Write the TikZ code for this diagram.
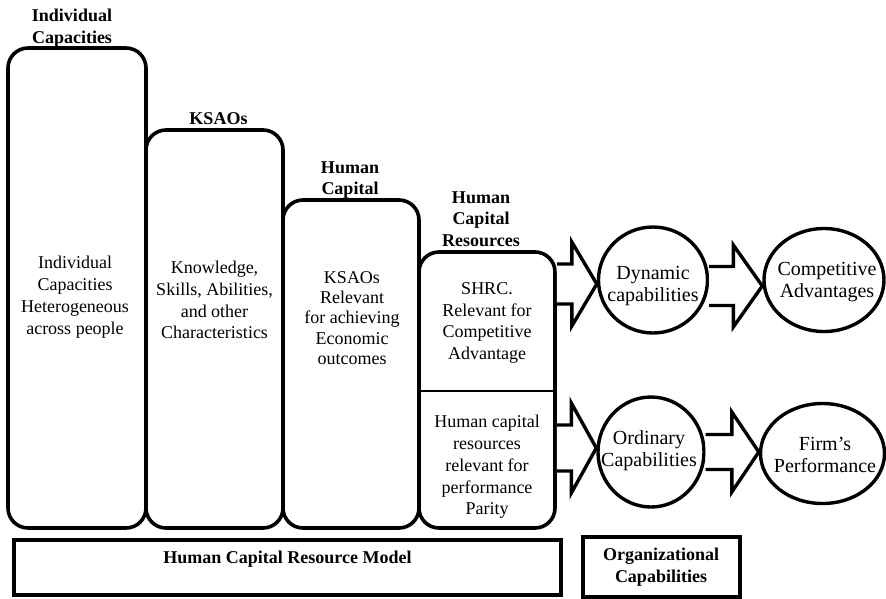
\documentclass[tikz,border=0pt]{standalone}
\usepackage{fontspec}
\setmainfont{Liberation Serif}
\usetikzlibrary{shapes.geometric,calc}

% Block arrow from the east side of node #1 to the west side of node #2.
% #3 = centre line (y, downward), #4 = half shaft width, #5 = half head width,
% #6 = head length.
\newcommand\hcarrow[6]{%
  \draw[blockarrow] let \p1=(#1.east), \p2=(#2.west) in
    (\x1,{-(#3-#4)*1pt}) -- ({\x2-#6*1pt},{-(#3-#4)*1pt})
    -- ({\x2-#6*1pt},{-(#3-#5)*1pt}) -- (\x2,{-#3*1pt})
    -- ({\x2-#6*1pt},{-(#3+#5)*1pt}) -- ({\x2-#6*1pt},{-(#3+#4)*1pt})
    -- (\x1,{-(#3+#4)*1pt});}

\tikzset{
  stage/.style={draw, line width=3.6pt, rounded corners=20pt, inner sep=0pt},
  panel/.style={draw, line width=3.2pt, inner sep=0pt},
  capoval/.style={draw, ellipse, line width=3.4pt, inner sep=0pt},
  divider/.style={line width=1.6pt},
  blockarrow/.style={line width=3.4pt, line join=miter, fill=white},
  bodytext/.style={align=center, inner sep=0pt, font=\fontsize{18}{21.8}\selectfont},
  tightbody/.style={bodytext, font=\fontsize{18}{20.2}\selectfont},
  captext/.style={align=center, inner sep=0pt, font=\fontsize{20}{22}\selectfont},
  heading/.style={align=center, inner sep=0pt, font=\bfseries\fontsize{18}{21.5}\selectfont},
}

\begin{document}
\begin{tikzpicture}[x=1pt, y=-1pt]
\useasboundingbox (0,0) rectangle (886,598);

% the four stages of the human capital resource model
\node[stage, minimum width=138pt, minimum height=480pt] (ic)   at (77,288)  {};
\node[stage, minimum width=137pt, minimum height=398pt] (ksao) at (214.5,329) {};
\node[stage, minimum width=136pt, minimum height=328pt] (hc)   at (351,364) {};
\node[stage, minimum width=136pt, minimum height=276pt] (hcr)  at (487,390) {};
\coordinate (split) at (487,391);
\draw[divider] (split -| hcr.west) -- (split -| hcr.east);

% stage headings
\node[heading] (ic-h)   at (72,28)   {Individual\\Capacities};
\node[heading] (ksao-h) at (218.5,119) {KSAOs};
\node[heading] (hc-h)   at (350,180) {Human\\Capital};
\node[heading] (hcr-h)  at (481,219) {Human\\Capital\\Resources};

% stage contents
\node[bodytext] (ic-t)   at (75,297)  {Individual\\Capacities\\Heterogeneous\\across people};
\node[bodytext] (ksao-t) at (214.5,300) {Knowledge,\\Skills, Abilities,\\and other\\Characteristics};
\node[tightbody] (hc-t)  at (352,318) {KSAOs\\Relevant\\for achieving\\Economic\\outcomes};
\node[bodytext] (hcr-t1) at (487,323) {SHRC.\\Relevant for\\Competitive\\Advantage};
\node[bodytext] (hcr-t2) at (487,467) {Human capital\\resources\\relevant for\\performance\\Parity};

% organizational capabilities and outcomes
\node[capoval, minimum width=109pt, minimum height=106pt] (dyn)  at (653,280) {};
\node[capoval, minimum width=120pt, minimum height=103pt] (comp) at (824,280) {};
\node[capoval, minimum width=106pt, minimum height=110pt] (ord)  at (651,452) {};
\node[capoval, minimum width=124pt, minimum height=100pt] (firm) at (822.5,453.5) {};

\node[captext] (dyn-t)  at (653,286)   {Dynamic\\capabilities};
\node[captext] (comp-t) at (827,282)   {Competitive\\Advantages};
\node[captext] (ord-t)  at (649,451)   {Ordinary\\Capabilities};
\node[captext] (firm-t) at (825,455)   {Firm’s\\Performance};

% block arrows
\hcarrow{hcr}{dyn}{284}{20}{42}{25}
\hcarrow{dyn}{comp}{286}{19.5}{41}{29}
\hcarrow{hcr}{ord}{448}{23}{45}{25}
\hcarrow{ord}{firm}{452}{17.5}{40}{27}

% bottom captions
\node[panel, minimum width=547pt, minimum height=55pt] (model) at (287.5,567.5) {};
\node[heading] (model-t) at (287.5,559) {Human Capital Resource Model};
\node[panel, minimum width=157pt, minimum height=60pt] (org) at (661.5,567) {};
\node[heading] (org-t) at (661,567) {Organizational\\Capabilities};
\end{tikzpicture}
\end{document}
